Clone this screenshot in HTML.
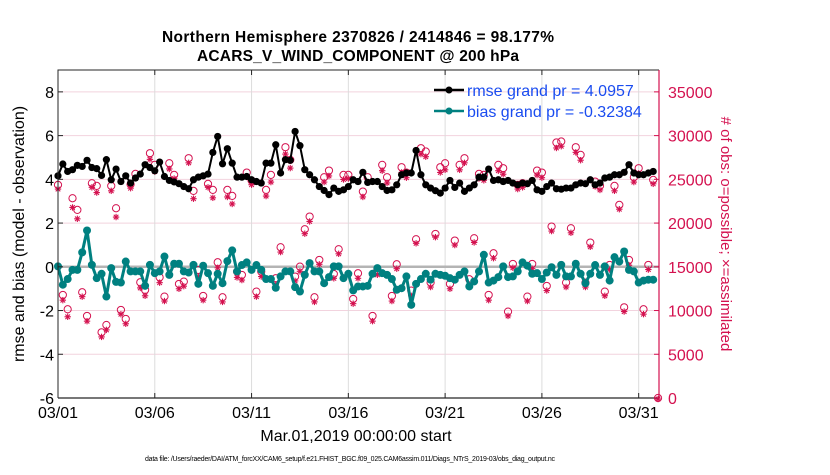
<!DOCTYPE html>
<html><head><meta charset="utf-8"><style>
body{margin:0;background:#fff;width:830px;height:470px;overflow:hidden}
svg{font-family:"Liberation Sans",Arial,sans-serif}
</style></head><body>
<svg id="chart" width="830" height="470" viewBox="0 0 830 470">
<text x="358" y="42" text-anchor="middle" font-size="15.5" font-weight="bold" textLength="392">Northern Hemisphere 2370826 / 2414846 = 98.177%</text>
<text x="358" y="61" text-anchor="middle" font-size="15.5" font-weight="bold" textLength="322">ACARS_V_WIND_COMPONENT @ 200 hPa</text>
<g id="grid"></g><g id="marks"></g><g id="axes"></g>
<text transform="translate(24,234) rotate(-90)" text-anchor="middle" font-size="16">rmse and bias (model - observation)</text>
<text transform="translate(721,234) rotate(90)" text-anchor="middle" font-size="15" fill="#d4114f"># of obs: o=possible; ×=assimilated</text>
<text x="356" y="441" text-anchor="middle" font-size="16">Mar.01,2019 00:00:00 start</text>
<text x="350" y="461" text-anchor="middle" font-size="7" textLength="410">data file: /Users/raeder/DAI/ATM_forcXX/CAM6_setup/f.e21.FHIST_BGC.f09_025.CAM6assim.011/Diags_NTrS_2019-03/obs_diag_output.nc</text>
<g>
<line x1="434" y1="90" x2="464" y2="90" stroke="#000" stroke-width="2.5"/><circle cx="449" cy="90" r="3.5" fill="#000"/>
<text x="467" y="96" font-size="16" fill="#1a4cf0">rmse grand pr = 4.0957</text>
<line x1="434" y1="111" x2="464" y2="111" stroke="#008080" stroke-width="2.5"/><circle cx="449" cy="111" r="3.5" fill="#008080"/>
<text x="467" y="117" font-size="16" fill="#1a4cf0">bias grand pr = -0.32384</text>
</g>
</svg>
<script>
const rmse=[4.16,4.70,4.36,4.44,4.64,4.59,4.87,4.54,4.49,4.18,4.90,3.98,4.47,3.90,4.16,3.83,4.06,4.24,4.67,4.54,4.39,4.79,4.13,3.95,3.88,3.80,3.67,3.57,3.98,4.10,4.16,4.24,5.23,5.96,4.71,5.40,4.74,4.10,4.10,4.13,3.98,3.90,3.83,4.74,4.74,5.58,4.29,4.90,4.87,6.19,5.54,4.44,4.21,3.98,3.67,3.49,3.30,3.60,3.45,3.52,3.67,3.98,
3.90,4.32,3.86,3.90,3.90,3.67,3.49,3.52,3.75,4.21,4.29,4.29,5.32,4.21,3.75,3.60,3.48,3.37,3.60,3.95,3.63,3.83,3.45,3.60,3.75,4.10,4.10,4.47,3.95,3.98,3.90,3.95,3.83,3.75,3.83,3.80,3.95,3.52,3.45,3.67,3.83,3.57,3.55,3.60,3.60,3.75,3.83,3.80,3.98,3.75,3.83,4.06,4.10,4.21,4.21,4.32,4.67,4.29,4.21,4.21,4.29,4.36];
const bias=[0.02,-0.82,-0.56,-0.14,-0.14,0.66,1.66,0.09,-0.52,-0.32,-1.36,-0.06,-0.69,-0.72,0.24,-0.21,-0.21,-0.21,-0.87,0.09,-0.29,-0.21,0.47,-0.37,0.14,0.14,-0.21,-0.26,0.09,-0.78,0.05,-0.29,-0.87,-0.32,-0.75,0.26,0.75,-0.21,0.08,0.2,-0.14,0.08,-0.14,-0.56,-0.56,-0.96,-0.44,-0.21,-0.21,-0.93,-1.13,-0.37,0.17,-0.21,-0.21,-0.75,-0.47,0.02,0.02,-0.52,-0.32,-1.08,
-0.9,-0.9,-0.87,-0.32,-0.06,-0.29,-0.37,-0.56,-1.05,-0.98,-0.44,-1.74,-0.78,-0.56,-0.32,-0.59,-0.32,-0.37,-0.41,-0.52,-0.59,-0.37,-0.21,-0.9,-0.67,-0.21,0.55,-0.72,-0.63,-0.47,0.02,-0.47,-0.44,-0.21,0.2,0.05,-0.32,-0.29,-0.56,-0.26,-0.02,-0.37,0.09,-0.44,-0.44,0.14,-0.32,-0.75,-0.32,0.08,-0.37,0.02,-0.63,0.44,0.24,0.7,-0.14,-0.21,-0.72,-0.63,-0.59,-0.59];
const nPossible=[24365,11782,10143,22840,21505,12087,9380,24556,24251,7512,8350,24251,21696,10066,9037,24441,25623,13231,12354,27987,26653,13803,11592,26843,25509,13040,13307,27415,23679,14642,11668,24479,23793,15519,11515,23793,23107,14451,14070,25776,24861,12163,14451,23793,25509,13689,17235,28674,27225,13879,15023,19294,20743,11515,15786,25242,26005,14184,17006,25509,25509,11325,
14261,23602,25242,9380,14642,26653,25242,11668,15290,26386,25776,12278,18150,28559,28178,13193,18760,26386,26843,13040,17997,26653,27415,13574,18264,25623,25509,11782,16548,26653,26272,9876,15328,24365,24556,11592,15328,26005,25776,12812,19599,29208,29322,13193,19408,28674,27797,13193,17769,24746,24251,12163,15214,24251,22077,10371,15786,25242,26272,10143,15214,24937,0];
const nUsed=[24000,11300,9400,21900,20600,11700,8900,24200,23600,7100,7900,23800,20800,9700,8600,24100,25300,12700,11800,27400,26000,13300,11200,26300,25200,12600,12900,27000,22900,14000,11300,24200,23000,15000,11100,23100,22300,13900,13600,25400,24500,11700,14000,23200,24800,13100,16800,28000,26400,13500,14600,18900,20300,11100,15400,24800,25500,13800,16600,25100,25200,10900,
13800,23100,24800,8900,14200,26100,24700,11200,14900,25900,25300,11800,17800,28000,27700,12800,18500,25900,26200,12600,17600,26200,27000,13100,17900,25200,25000,11300,16100,26100,25700,9500,15000,24000,24200,11200,14900,25600,25300,12400,19200,28700,28900,12800,19000,28200,27300,12800,17400,24300,23900,11800,14800,23800,21700,10000,15300,24800,25800,9700,14800,24600,0];
const xTickLabels=["03/01","03/06","03/11","03/16","03/21","03/26","03/31"];
const xTickDays=[0,5,10,15,20,25,30];
const yLeftTicks=[-6,-4,-2,0,2,4,6,8];
const yRightTicks=[0,5000,10000,15000,20000,25000,30000,35000];

const L=58,R=659,T=70,B=398,DAYS=31.05,STEP=0.25;
const X=d=>L+d/DAYS*(R-L);
const YL=v=>B-(v+6)/15*(B-T);
const YR=c=>B-c/37500*(B-T);
const NS="http://www.w3.org/2000/svg";
function mk(tag,attrs,parent){const e=document.createElementNS(NS,tag);for(const k in attrs)e.setAttribute(k,attrs[k]);parent.appendChild(e);return e;}
const grid=document.getElementById('grid'),marks=document.getElementById('marks'),axes=document.getElementById('axes');
mk('rect',{x:L,y:T,width:R-L,height:B-T,fill:'#fff'},grid);
yRightTicks.forEach(c=>{if(c>0&&c!==15000){const l=mk('line',{x1:L,x2:R,y1:YR(c),y2:YR(c),stroke:'#f2d3de','stroke-width':1},grid);

}});
xTickDays.forEach(d=>{if(d>0){const l=mk('line',{x1:X(d),x2:X(d),y1:T,y2:B,stroke:'#dcdcdc','stroke-width':1},grid);

}});
const z=mk('line',{x1:L,x2:R,y1:YL(0),y2:YL(0),stroke:'#b4b4b4','stroke-width':2.5},grid);


nPossible.forEach((c,i)=>{const x=X(i*STEP),y=YR(c);
const o=mk('circle',{cx:x,cy:y,r:3.6,fill:'none',stroke:'#d4114f','stroke-width':1},marks);

});
nUsed.forEach((c,i)=>{const x=X(i*STEP),y=YR(c)+1;
const g=mk('g',{stroke:'#d4114f','stroke-width':1.1},marks);


mk('line',{x1:x-3.2,x2:x+3.2,y1:y,y2:y},g);mk('line',{x1:x,x2:x,y1:y-3.2,y2:y+3.2},g);
mk('line',{x1:x-2.3,x2:x+2.3,y1:y-2.3,y2:y+2.3},g);mk('line',{x1:x-2.3,x2:x+2.3,y1:y+2.3,y2:y-2.3},g);});
function series(vals,color,name,lw,r){
const p=mk('polyline',{points:vals.map((v,i)=>X(i*STEP)+','+YL(v)).join(' '),fill:'none',stroke:color,'stroke-width':lw,'stroke-linejoin':'round'},marks);


vals.forEach((v,i)=>{const c=mk('circle',{cx:X(i*STEP),cy:YL(v),r:r,fill:color},marks);

});}
series(rmse,'#000','rmse',2,3.6);
series(bias,'#008080','bias',3,4);
const ab=mk('path',{d:`M${L},${B}V${T}H${R}`,fill:'none',stroke:'#262626','stroke-width':1},axes);


const xa=mk('line',{x1:L,x2:R,y1:B,y2:B,stroke:'#262626','stroke-width':1.2},axes);


const ra=mk('line',{x1:R,x2:R,y1:T,y2:B,stroke:'#d4114f','stroke-width':1.2},axes);


xTickDays.forEach((d,i)=>{mk('line',{x1:X(d),x2:X(d),y1:B,y2:B-5,stroke:'#262626'},axes);mk('line',{x1:X(d),x2:X(d),y1:T,y2:T+5,stroke:'#262626'},axes);
const t=mk('text',{x:X(d),y:B+20,'text-anchor':'middle','font-size':16},axes);t.textContent=xTickLabels[i];

});
yLeftTicks.forEach(v=>{mk('line',{x1:L,x2:L+5,y1:YL(v),y2:YL(v),stroke:'#262626'},axes);
const t=mk('text',{x:L-4,y:YL(v)+6,'text-anchor':'end','font-size':16},axes);t.textContent=v;

});
yRightTicks.forEach(c=>{mk('line',{x1:R,x2:R-5,y1:YR(c),y2:YR(c),stroke:'#d4114f'},axes);
const t=mk('text',{x:R+9,y:YR(c)+6,'font-size':16,fill:'#d4114f'},axes);t.textContent=c;

});
</script>
</body></html>
